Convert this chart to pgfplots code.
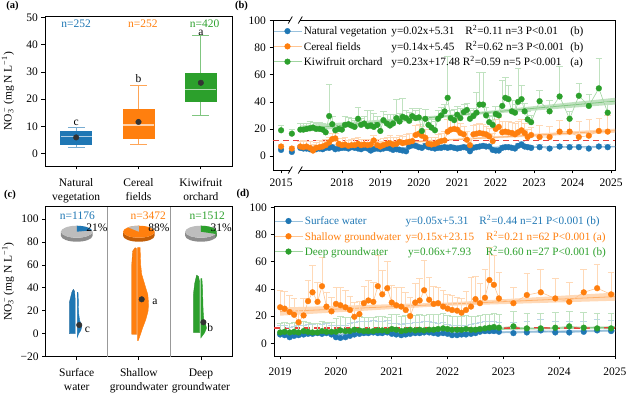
\documentclass[border=0pt]{standalone}
\usepackage{pgfplots}
\pgfplotsset{compat=1.18}
\usepgfplotslibrary{statistics}
\usepackage{pgfplotstable}
\usepackage{fontspec}
\setmainfont{Liberation Serif}

\definecolor{cB}{HTML}{1F77B4}
\definecolor{cO}{HTML}{FF7F0E}
\definecolor{cG}{HTML}{2CA02C}
\definecolor{cR}{HTML}{E8413C}
\definecolor{pieTop}{HTML}{BDBDBD}
\definecolor{pieSide}{HTML}{8C8C8C}
\definecolor{oSide}{HTML}{C25E08}
\definecolor{gSide}{HTML}{1F7A1F}

\newcommand{\lab}{\fontsize{11.5}{14}\selectfont}
\newcommand{\leg}{\fontsize{11.2}{12.5}\selectfont}

\pgfplotsset{
  base/.style={scale only axis, anchor=south west, tick align=outside,
    axis line style={line width=0.8pt}, major tick length=3.5pt,
    tick style={black, line width=0.7pt}, xtick pos=bottom, ytick pos=left,
    ticklabel style={font=\lab}, label style={font=\lab},
    /pgf/number format/assume math mode=true, /pgf/number format/1000 sep={}},
  ser/.style={color=#1!45, line width=0.6pt, mark=*, mark size=2.9pt,
    mark options={fill=#1, draw=#1, line width=0.3pt, solid},
    /pgfplots/error bars/y dir=plus, /pgfplots/error bars/y explicit,
    /pgfplots/error bars/error bar style={color=#1!30, line width=0.6pt},
    /pgfplots/error bars/error mark options={rotate=90, mark size=3.3pt, color=#1!30, line width=0.6pt}},
  leg/.style={legend style={at={(0,1)}, anchor=north west, draw=none, fill=none,
    inner xsep=0pt, inner ysep=#1, row sep=0.6pt, font=\leg, cells={anchor=west}},
    legend image code/.code={\draw[mark repeat=2,mark phase=2,##1] plot coordinates {(0pt,0pt) (14pt,0pt) (28pt,0pt)};}},
  bx/.style 2 args={boxplot/draw direction=y,
    boxplot/every box/.style={draw=#1, fill=#1, line width=0.5pt},
    boxplot/every whisker/.style={draw=#1!#2, line width=0.9pt},
    boxplot/every median/.style={draw=white!65!#1, line width=1.2pt}}
}

\pgfplotstableread{
x nat natE cer cerE kiw kiwE
2016.42 4.5 1.5 7 2 19 4
2016.70 3 1.5 5.5 2 16.5 3
}\tabBe

\pgfplotstableread{
x nat natE cer cerE kiw kiwE
2016.92 6 2 7 4 19.5 5
2017.00 5.5 2 6.5 5 19.5 5
2017.08 5.5 2 7 4 20 4
2017.17 5 2 6 5 20.5 5
2017.25 4.5 2 4 5 21 4
2017.33 5 2 6 4 20 4
2017.42 5.5 2 6.5 5 20 5
2017.50 5 2 7 4 19.5 5
2017.58 6 2 8 4 17.5 4
2017.67 6 2 10 4 29.5 23.5
2017.75 6.5 2 12.5 4 23.5 6
2017.83 5 2 13 4 19 5
2017.92 5.5 2 9 4 20 4
2018.00 6 2 8 5 19.5 4
2018.08 6 2 8.5 5 23 6
2018.17 5.5 2 7.5 4 23.5 5
2018.25 6.5 2 8 4 22.5 5
2018.33 6 2 8 5 21.5 5
2018.42 5.5 2 9 5 27.5 8.5
2018.50 5 2 8 4 23 5
2018.58 6 2 8.5 4 24 5
2018.67 5.5 2 8 4 22 12
2018.75 4 2 8.5 4 22.5 11
2018.83 5 2 11.5 4 21.5 10
2018.92 5.5 2 8 4 23 6
2019.00 5 2 7 4 18.5 6
2019.08 5.5 2 8 5 26.5 6.5
2019.17 6 2 9 5 24 7
2019.25 5.5 2 9.5 6 22.5 8
2019.33 4.5 2 8.5 5 24 7
2019.42 5 2 9 5 28 14
2019.50 4.5 2 10.5 5 25.5 6
2019.58 4 2 9.5 5 29 14
2019.67 3.5 2 10 6 28 6
2019.75 7 2 10.5 6 26 6
2019.83 8 2 11 6 29.5 5.5
2019.92 7.5 2 15.5 7 28 6
2020.00 6.5 2 16.5 7 28.5 7
2020.08 6 2 15 7 18.5 8
2020.17 7.5 2 13.5 6 27.5 7
2020.25 6.5 2 9 5 23 6
2020.33 6 2 8.5 5 21 6
2020.42 5.5 2 9 5 19 7
2020.50 6 2 10 6 27.5 6.5
2020.58 6 2 11 6 30 6
2020.67 6.5 2 11.5 7 33 5
2020.75 6 2 18 9 43 31
2020.83 6.5 2 19.5 9 28 6
2020.92 6 2 20 8 26.5 8
2021.00 5.5 2 19.5 8 30.5 6
2021.08 6 2 17 7 28 7
2021.17 6.5 2 16 6 32.5 6
2021.25 6 2 12 6 34 5
2021.33 3.5 2 8 5 27.5 6
2021.42 6 2 16 7 29.5 6
2021.50 6.5 2 16.5 7 32 15
2021.58 7 2 17 7 38 24
2021.67 7.5 2 16.5 7 38 24
2021.75 7 2 16 6 30 6
2021.83 7 2 14.5 6 25 5
2021.92 4.5 2 11 6 23 6
2022.00 4 2 20 7 31 6
2022.08 4 2 21.5 7 30 7
2022.17 6 2 17.5 8 37 19
2022.25 6.5 2 18 8 43 15
2022.33 6.5 2 17.5 8 42 10
2022.42 6 2 17 8 33 8
2022.50 5.5 2 16 8 32 6
2022.58 7.5 2 17.5 8 40 25
2022.67 8.5 2 19 8 42 10
2022.75 7 2 17 7 33 6
2022.83 6.5 2 14 6 27 6
2022.92 6 2 15.5 6 25 5
2023.14 6.5 2 14 9 40.5 8.3
2023.40 5.5 2 14 8 33 8
2023.66 7 2 18 8.6 44 22
2023.92 6.5 2 18 10 27.5 5.3
2024.16 6.5 2 14 12 44.5 9.2
2024.42 5.5 2 15 12 37 8.6
2024.68 7 2 18.5 9 50 22
2024.91 6.5 2 18 12 32 8
}\tabB

\pgfplotstableread{
x sw swE sh shE dg dgE
2019.00 6.5 7 26.5 12.5 8 7
2019.08 6 7 25.5 12.5 8.5 7
2019.17 4.5 7 23 12 8 7
2019.25 5.5 7 21 12 8.5 7
2019.33 6 7 15.5 9.5 8 7
2019.42 6.5 7 20.5 12.5 9 7
2019.50 7 7 31 15 8.5 7
2019.58 7 7 37.5 19.5 8 7
2019.67 7.5 7 30.5 14.5 8 7
2019.75 7 7 42 21 9 7
2019.83 7.5 7 27 10.5 8.5 7
2019.92 6.5 7 23.5 10.5 8.5 7
2020.00 4.5 9 29 12 8.5 10
2020.08 4 9 28 13 9.5 10
2020.17 4.5 9 26.5 12.5 9 10
2020.25 5.5 9 24.5 10 9 10
2020.33 6.5 9 19.5 11 10 10
2020.42 7 9 21.5 9.5 9.5 10
2020.50 7.5 9 29.5 12.5 9 10
2020.58 7.5 9 31.5 14.5 9 10
2020.67 8 9 30.5 14 9 10
2020.75 7.5 9 42 22.5 9.5 10
2020.83 7.5 9 36 17.5 9.5 10
2020.92 8 9 40.5 20 9 10
2021.00 7 8 30 13 10.5 11
2021.08 6.5 8 28 13.5 10 11
2021.17 6 8 27 14 9 11
2021.25 6.5 8 24.5 13 9.5 11
2021.33 7 8 20 13.5 10 11
2021.42 7.5 8 30 14 9.5 11
2021.50 7.5 8 31.5 16 10 11
2021.58 8 8 39 22 9.5 11
2021.67 8 8 32 16.5 10 11
2021.75 7.5 8 29 13 10 11
2021.83 7 8 29.5 12 10.5 11
2021.92 7.5 8 27 12 11 11
2022.00 7 7 25.5 10.5 10.5 10
2022.08 6 7 24.5 10.5 10 10
2022.17 6 7 24 10 10 10
2022.25 6.5 7 22.5 10.5 10 10
2022.33 6.5 7 24.5 13.5 10.5 10
2022.42 7 7 27 21.5 10 10
2022.50 7.5 7 32.5 17 10 10
2022.58 8.5 7 29.5 14.5 10.5 10
2022.67 9 7 33.5 21 11 10
2022.75 9 7 46.5 24 11.5 10
2022.83 9 7 43 21.5 12 10
2022.92 8.5 7 33 19 11.5 10
2023.18 7.5 8 29.5 12 12.5 11
2023.42 8 8 35.5 16 11 11
2023.67 9.5 8 37.5 17 11 11
2023.93 8 8 33 15 11.5 11
2024.18 8 8 30.5 14 12.5 11
2024.44 8.5 8 37.5 17 11.5 11
2024.68 9.5 8 40.5 17.5 11 11
2024.93 9 8 36 16 11 11
}\tabD

\begin{document}
\begin{tikzpicture}[font=\lab]
\useasboundingbox (0,0) rectangle (627pt,393pt);

% ---------------- (a)
\begin{axis}[base, at={(45pt,227pt)}, width=187pt, height=149.3pt,
  xmin=-0.5, xmax=2.5, ymin=-4.6, ymax=50.3,
  xtick={0,1,2}, xticklabels={{Natural\\vegetation},{Cereal\\fields},{Kiwifruit\\orchard}},
  xticklabel style={align=center, yshift=-5pt},
  ytick={0,10,...,50},
  ylabel={NO\rlap{\textsubscript{3}}\textsuperscript{\,−} (mg N L\textsuperscript{−1})},
  ylabel style={at={(axis description cs:-0.198,0.5)}, anchor=center},
  clip=false]
\addplot[bx={cB}{60}, boxplot prepared={draw position=0, lower whisker=2.2, lower quartile=3.4, median=6.2,
   upper quartile=8.0, upper whisker=9.5, box extend=0.5, whisker extend=0.27}] coordinates {};
\addplot[bx={cO}{70}, boxplot prepared={draw position=1, lower whisker=3.3, lower quartile=5.5, median=10.5,
   upper quartile=16.2, upper whisker=25.2, box extend=0.5, whisker extend=0.27}] coordinates {};
\addplot[bx={cG}{60}, boxplot prepared={draw position=2, lower whisker=14.1, lower quartile=19.1, median=23.5,
   upper quartile=29.4, upper whisker=43.3, box extend=0.5, whisker extend=0.27}] coordinates {};
\addplot[only marks, mark=*, mark size=2.8pt, mark options={fill=black!80, draw=black!80}]
  coordinates {(0,5.9) (1,11.6) (2,26)};
\node[text=cB] at (axis cs:0,47.6) {n=252};
\node[text=cO] at (axis cs:1.07,47.6) {n=252};
\node[text=cG] at (axis cs:2.06,47.6) {n=420};
\node at (axis cs:0,11.3) {c};
\node at (axis cs:1,27.5) {b};
\node at (axis cs:2,44.3) {a};
\end{axis}

% ---------------- (b)
\begin{axis}[base, leg=3.6pt, at={(273pt,223pt)}, width=342pt, height=150pt,
  xmin=2016.21, xmax=2025.10, ymin=-10.35, ymax=100.5,
  xtick={2016.42,2018,2019,2020,2021,2022,2023,2024,2025},
  xticklabels={2015,2018,2019,2020,2021,2022,2023,2024,2025},
  xticklabel style={yshift=-2pt},
  ytick={0,20,...,100}]
\addplot[forget plot, fill=cG!30, draw=none] coordinates {(2016.92,17.5) (2021,29.4) (2025.1,38) (2025.1,43) (2021,31) (2016.92,22.5)} -- cycle;
\addplot[forget plot, fill=cO!30, draw=none] coordinates {(2016.92,4.3) (2021,11.7) (2025.1,17.2) (2025.1,20.2) (2021,12.9) (2016.92,7.3)} -- cycle;
\addplot[forget plot, fill=cB!30, draw=none] coordinates {(2016.92,5.0) (2025.1,6.3) (2025.1,7.5) (2016.92,6.2)} -- cycle;
\addplot[forget plot, cG!60, line width=0.8pt] coordinates {(2016.92,20) (2025.1,40.5)};
\addplot[forget plot, cO!60, line width=0.8pt] coordinates {(2016.92,5.8) (2025.1,18.7)};
\addplot[forget plot, cB!60, line width=0.8pt] coordinates {(2016.92,5.6) (2025.1,6.9)};
\addplot[forget plot, cR, line width=1.5pt, dash pattern=on 6pt off 4pt] coordinates {(2016.21,11.3) (2025.1,11.3)};
\addplot[ser=cB] table[x=x, y=nat, y error=natE] {\tabB};
\addlegendentry{\makebox[87.6pt][l]{Natural vegetation}\makebox[74pt][l]{y=0.02x+5.31}\makebox[105pt][l]{R\textsuperscript{2}=0.11 n=3 P<0.01}(b)}
\addplot[ser=cO] table[x=x, y=cer, y error=cerE] {\tabB};
\addlegendentry{\makebox[87.6pt][l]{Cereal fields}\makebox[74pt][l]{y=0.14x+5.45}\makebox[105pt][l]{R\textsuperscript{2}=0.62 n=3 P<0.001}(b)}
\addplot[ser=cG] table[x=x, y=kiw, y error=kiwE] {\tabB};
\addlegendentry{\makebox[87.6pt][l]{Kiwifruit orchard}\makebox[71.5pt][l]{y=0.23x+17.48}\makebox[107.5pt][l]{R\textsuperscript{2}=0.59 n=5 P<0.001}(a)}
\addplot[ser=cB, only marks, forget plot] table[x=x, y=nat, y error=natE] {\tabBe};
\addplot[ser=cO, only marks, forget plot] table[x=x, y=cer, y error=cerE] {\tabBe};
\addplot[ser=cG, only marks, forget plot] table[x=x, y=kiw, y error=kiwE] {\tabBe};
\coordinate (bkB) at (axis cs:2016.79,-10.35);
\coordinate (bkT) at (axis cs:2016.79,100.5);
\end{axis}
\foreach \cc in {bkB,bkT}{
  \fill[white] ([xshift=-5pt,yshift=-2pt]\cc) rectangle ([xshift=5pt,yshift=2pt]\cc);
  \draw[line width=0.8pt] ([xshift=-7pt,yshift=-3.5pt]\cc) -- ([xshift=-3pt,yshift=3.5pt]\cc);
  \draw[line width=0.8pt] ([xshift=3pt,yshift=-3.5pt]\cc) -- ([xshift=7pt,yshift=3.5pt]\cc);
}

% ---------------- (c)
\begin{axis}[base, at={(45.7pt,36.3pt)}, width=186.3pt, height=150pt,
  xmin=-0.5, xmax=2.5, ymin=-20, ymax=110.7,
  xtick={0,1,2}, xticklabels={{Surface\\water},{Shallow\\groundwater},{Deep\\groundwater}},
  xticklabel style={align=center, yshift=-5pt},
  ytick={-20,0,20,40,60,80,100}, yticklabels={−20,0,20,40,60,80,100},
  ylabel={NO\rlap{\textsubscript{3}}\textsuperscript{\,−} (mg N L\textsuperscript{−1})},
  ylabel style={at={(axis description cs:-0.202,0.5)}, anchor=center},
  clip=false]
\addplot[gray!80, line width=0.7pt] coordinates {(0.5,-20) (0.5,110.7)};
\addplot[gray!80, line width=0.7pt] coordinates {(1.5,-20) (1.5,110.7)};
% strips of jittered points
\addplot[fill=cB, draw=cB!80!black, line width=0.3pt] coordinates {(-0.12,0) (-0.025,0) (-0.025,30) (-0.035,37) (-0.055,38.7) (-0.08,36) (-0.12,27)} -- cycle;
\addplot[fill=cO, draw=cO!85!black, line width=0.3pt] coordinates {(0.885,-0.5) (0.965,-0.5) (0.965,74) (0.94,75) (0.9,72) (0.885,60)} -- cycle;
\addplot[fill=cG, draw=cG!80!black, line width=0.3pt] coordinates {(1.88,1) (1.98,1) (1.98,45) (1.96,50) (1.93,51) (1.9,44) (1.88,35)} -- cycle;
% half violins
\addplot[fill=cB, draw=cB] coordinates {(0.01,-3) (0.03,0) (0.065,3) (0.08,6) (0.065,9) (0.045,12) (0.03,18) (0.025,30) (0.02,36) (0.01,36)} -- cycle;
\addplot[fill=cO, draw=cO] coordinates {(0.98,-6) (0.99,-6) (1.03,0) (1.06,5) (1.11,12) (1.15,20) (1.155,27) (1.145,34) (1.1,42) (1.045,52) (1.03,60) (1.02,75) (0.98,75)} -- cycle;
\addplot[fill=cG, draw=cG] coordinates {(2.0,-3.5) (2.02,-2) (2.06,1) (2.09,5) (2.07,9) (2.045,13) (2.035,20) (2.03,30) (2.025,40) (2.015,48) (2.0,48)} -- cycle;
\addplot[only marks, mark=*, mark size=2.8pt, mark options={fill=black!80, draw=black!80}]
  coordinates {(0.04,7.6) (1.046,30) (2.04,10)};
\node at (axis cs:0.17,3.5) {c};
\node at (axis cs:1.26,28) {a};
\node at (axis cs:2.15,5) {b};
\node[text=cB] at (axis cs:0.01,102.9) {n=1176};
\node[text=cO] at (axis cs:1.15,102.9) {n=3472};
\node[text=cG] at (axis cs:2.1,102.9) {n=1512};
\coordinate (pS) at (axis cs:0,88.9);
\coordinate (pO) at (axis cs:1,88.9);
\coordinate (pG) at (axis cs:2,88.9);
\end{axis}
\foreach \cc/\ss in {pS/pieSide,pO/oSide,pG/pieSide}{
  \fill[\ss] ([xshift=-15.8pt]\cc) -- ++(0,-4pt) arc[start angle=180,end angle=360,x radius=15.8pt,y radius=6pt] -- ++(0,4pt) arc[start angle=360,end angle=180,x radius=15.8pt,y radius=6pt] -- cycle;
}
\fill[gSide] ([shift={(-21.6:15.8pt and 6pt)}]pG) -- ++(0,-4pt) arc[start angle=-21.6,end angle=0,x radius=15.8pt,y radius=6pt] -- ++(0,4pt) arc[start angle=0,end angle=-21.6,x radius=15.8pt,y radius=6pt] -- cycle;
\fill[pieTop] (pS) ellipse [x radius=15.8pt, y radius=6pt];
\fill[cB] (pS) -- ([shift={(90:15.8pt and 6pt)}]pS) arc[start angle=90,end angle=14.4,x radius=15.8pt,y radius=6pt] -- cycle;
\fill[cO] (pO) ellipse [x radius=15.8pt, y radius=6pt];
\fill[pieTop] (pO) -- ([shift={(90:15.8pt and 6pt)}]pO) arc[start angle=90,end angle=133.2,x radius=15.8pt,y radius=6pt] -- cycle;
\fill[pieTop] (pG) ellipse [x radius=15.8pt, y radius=6pt];
\fill[cG] (pG) -- ([shift={(90:15.8pt and 6pt)}]pG) arc[start angle=90,end angle=-21.6,x radius=15.8pt,y radius=6pt] -- cycle;
\node[anchor=west, inner sep=0pt] at ([xshift=9.4pt,yshift=4.4pt]pS) {21\%};
\node[anchor=west, inner sep=0pt] at ([xshift=9.4pt,yshift=4.4pt]pO) {88\%};
\node[anchor=west, inner sep=0pt] at ([xshift=9.4pt,yshift=4.4pt]pG) {31\%};

% ---------------- (d)
\begin{axis}[base, leg=6.8pt, at={(274pt,37pt)}, width=341pt, height=149.3pt,
  xmin=2018.89, xmax=2025, ymin=-9.3, ymax=100.4,
  xtick={2019,2020,...,2025}, ytick={0,20,...,100},
  xticklabel style={yshift=-5pt}]
\addplot[forget plot, fill=cO!30, draw=none] coordinates {(2019,20.3) (2022,27.6) (2025,31.3) (2025,37.3) (2022,30) (2019,26.3)} -- cycle;
\addplot[forget plot, fill=cB!30, draw=none] coordinates {(2019,5.2) (2025,8.5) (2025,10.1) (2019,6.8)} -- cycle;
\addplot[forget plot, fill=cG!30, draw=none] coordinates {(2019,7.5) (2025,11) (2025,12.6) (2019,9.1)} -- cycle;
\addplot[forget plot, cO!60, line width=0.8pt] coordinates {(2019,23.3) (2025,34.3)};
\addplot[forget plot, cB!60, line width=0.8pt] coordinates {(2019,6) (2025,9.3)};
\addplot[forget plot, cG!60, line width=0.8pt] coordinates {(2019,8.3) (2025,11.8)};
\addplot[forget plot, cR, line width=1.5pt, dash pattern=on 6pt off 4pt] coordinates {(2018.89,11.3) (2025,11.3)};
\addplot[ser=cB] table[x=x, y=sw, y error=swE] {\tabD};
\addlegendentry{\textcolor{cB}{\makebox[100.7pt][l]{Surface water}\makebox[74pt][l]{y=0.05x+5.31}R\textsuperscript{2}=0.44 n=21 P<0.001 (b)}}
\addplot[ser=cO] table[x=x, y=sh, y error=shE] {\tabD};
\addlegendentry{\textcolor{cO}{\makebox[100.7pt][l]{Shallow groundwater}\makebox[80.6pt][l]{y=0.15x+23.15}R\textsuperscript{2}=0.21 n=62 P<0.001 (a)}}
\addplot[ser=cG] table[x=x, y=dg, y error=dgE] {\tabD};
\addlegendentry{\textcolor{cG}{\makebox[103.3pt][l]{Deep groundwater}\makebox[77.7pt][l]{y=0.06x+7.93}R\textsuperscript{2}=0.60 n=27 P<0.001 (b)}}
\end{axis}

\node[font=\fontsize{10.5}{12}\selectfont\bfseries] at (12.5pt,387pt) {(a)};
\node[font=\fontsize{10.5}{12}\selectfont\bfseries] at (241.5pt,387pt) {(b)};
\node[font=\fontsize{10.5}{12}\selectfont\bfseries] at (10pt,198pt) {(c)};
\node[font=\fontsize{10.5}{12}\selectfont\bfseries] at (243pt,199pt) {(d)};
\end{tikzpicture}
\end{document}
